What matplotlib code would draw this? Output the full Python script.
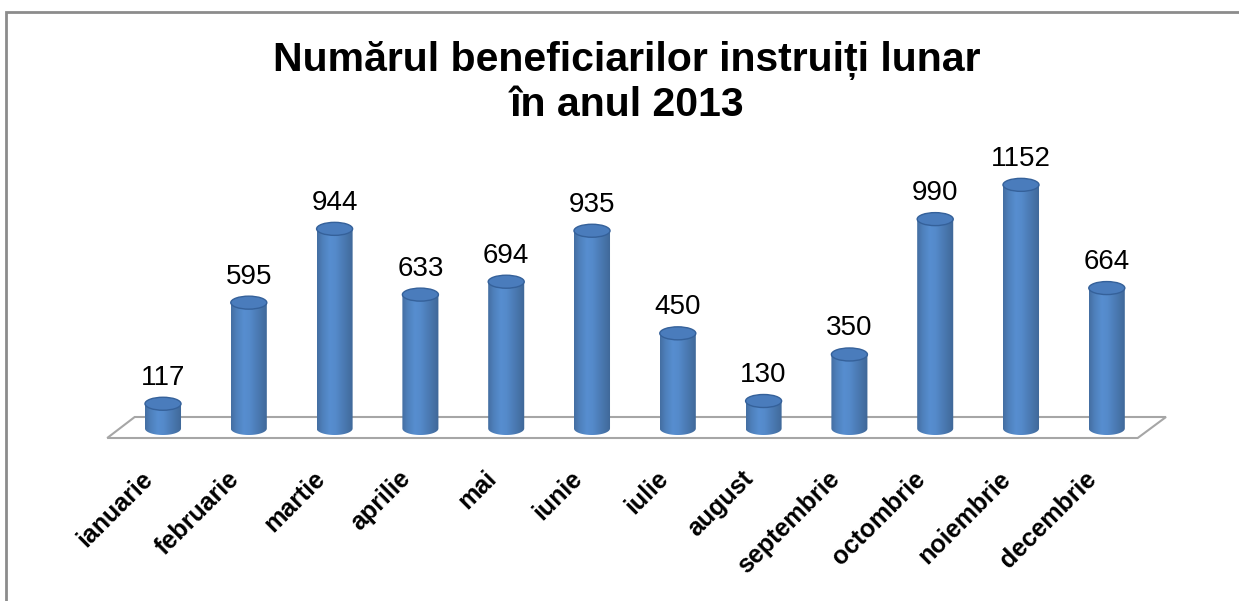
import numpy as np
import matplotlib
matplotlib.use("Agg")
import matplotlib.pyplot as plt
from matplotlib.patches import Polygon, Ellipse, Rectangle

# data
months = ["ianuarie", "februarie", "martie", "aprilie", "mai", "iunie",
          "iulie", "august", "septembrie", "octombrie", "noiembrie", "decembrie"]
values = [117, 595, 944, 633, 694, 935, 450, 130, 350, 990, 1152, 664]
title = "Numărul beneficiarilor instruiți lunar\nîn anul 2013"

plt.rcParams['font.family'] = ['Liberation Sans', 'DejaVu Sans']

W, H = 1239, 601
fig = plt.figure(figsize=(W / 100, H / 100), dpi=100)

# axes placed so that category i / value v land where the reference draws them
px_x0, px_step = 163, 85.8          # centre of first bar, spacing (pixels)
px_zero, px_per = 428.5, 0.2115     # pixel row of value 0, pixels per unit
ylo, yhi = -150, 1400
left = (px_x0 - px_step / 2) / W
width = px_step * len(months) / W
bottom = (H - (px_zero + (-ylo) * px_per)) / H
height = (yhi - ylo) * px_per / H
ax = fig.add_axes([left, bottom, width, height])
ax.set_xlim(-0.5, len(months) - 0.5)
ax.set_ylim(ylo, yhi)
ax.axis("off")

# floor
n = len(months)
fy0, fy1 = -9.5 / px_per, 11.5 / px_per
floor = Polygon([(-0.65, fy0), (n - 0.64, fy0), (n - 0.31, fy1), (-0.33, fy1)],
                closed=True, facecolor="white", edgecolor="#a6a6a6", lw=1.5,
                zorder=1, clip_on=False)
ax.add_patch(floor)

hw = 0.21                  # half width of cylinder (category units)
eh = 13 / px_per           # full ellipse height (value units)

grad = np.array([0.0, 0.15, 0.35, 0.5, 0.65, 0.85, 1.0])
shade = np.array([0.55, 0.8, 1.0, 0.95, 0.8, 0.6, 0.45])
base = np.array([0x4f, 0x81, 0xbd]) / 255
xs = np.linspace(0, 1, 200)
sh = np.interp(xs, grad, shade)
img = np.clip(base[None, :] * (0.55 + 0.55 * sh[:, None]), 0, 1)[None, :, :]

for i, v in enumerate(values):
    # body + bottom ellipse as clip path
    t = np.linspace(0, np.pi, 40)
    bot = [(i + hw * np.cos(a + np.pi), -eh / 2 * np.sin(a)) for a in t]
    verts = bot + [(i + hw, v), (i - hw, v)]
    body = Polygon(verts, closed=True, facecolor="none", edgecolor="none",
                   zorder=2, clip_on=False)
    ax.add_patch(body)
    im = ax.imshow(img, extent=(i - hw, i + hw, -eh / 2, v), aspect="auto",
                   zorder=2, interpolation="bilinear")
    im.set_clip_path(body)
    # top cap
    cap = Ellipse((i, v), 2 * hw, eh, facecolor="#4a7cbc",
                  edgecolor="#35619a", lw=1.0, zorder=3, clip_on=False)
    ax.add_patch(cap)
    ax.text(i, v + 26 / px_per, str(v), ha="center", va="center",
            fontsize=20, color="black", zorder=4)

# month labels, rotated
for i, m in enumerate(months):
    ax.text(i - 0.16, -220, m, rotation=45, rotation_mode="anchor",
            ha="right", va="center", fontsize=18, fontweight="bold",
            clip_on=False)

ax.set_xlim(-0.5, len(months) - 0.5)
ax.set_ylim(ylo, yhi)

fig.text(0.506, 1 - 82 / H, title, ha="center", va="center", fontsize=29.5,
         fontweight="bold", linespacing=1.2)

# chart border
border = Rectangle((6 / W, -0.1), 1.2, 1 - 12 / H + 0.1, transform=fig.transFigure,
                   facecolor="none", edgecolor="#8c8c8c", lw=2)
fig.patches.append(border)

fig.savefig("out.png", dpi=100)
